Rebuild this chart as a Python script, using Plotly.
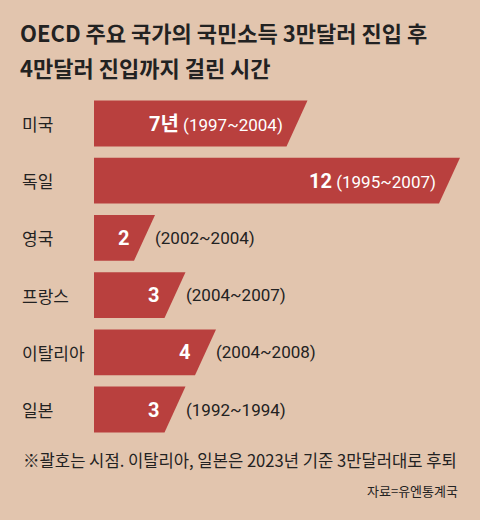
import plotly.graph_objects as go

# 데이터
countries = ['미국', '독일', '영국', '프랑스', '이탈리아', '일본']
years = [7, 12, 2, 3, 4, 3]
periods = ['(1997~2004)', '(1995~2007)', '(2002~2004)', '(2004~2007)', '(2004~2008)', '(1992~1994)']
title_lines = ['OECD 주요 국가의 국민소득 3만달러 진입 후', '4만달러 진입까지 걸린 시간']

BG = '#e2c5ae'
RED = '#b9403e'
DARK = '#222222'
KR = 'Noto Sans CJK KR'
NUM = 'Roboto, Noto Sans CJK KR'

PX = 30.5           # 1년당 픽셀
slant = 21 / PX     # 오른쪽 끝 기울기
half = 0.4          # 막대 절반 높이

fig = go.Figure()

for i, (c, v, p) in enumerate(zip(countries, years, periods)):
    # 오른쪽이 비스듬히 잘린 막대
    fig.add_trace(go.Scatter(
        x=[0, v, v - slant, 0, 0],
        y=[i - half, i - half, i + half, i + half, i - half],
        fill='toself', fillcolor=RED, mode='lines', line=dict(width=0),
        hoverinfo='skip', showlegend=False))

    num = f'{v}년' if i == 0 else f'{v}'
    edge = v - slant / 2
    if v >= 7:
        fig.add_annotation(x=edge, y=i, xref='x', yref='y', xanchor='right',
                           xshift=-12, showarrow=False,
                           text=f'<b><span style="font-size:20px">{num}</span></b> {p}',
                           font=dict(family=NUM, size=17, color='white'))
    else:
        fig.add_annotation(x=edge, y=i, xref='x', yref='y', xanchor='right',
                           xshift=-14, showarrow=False, text=f'<b>{num}</b>',
                           font=dict(family=NUM, size=20, color='white'))
        fig.add_annotation(x=v, y=i, xref='x', yref='y', xanchor='left',
                           xshift=-2, showarrow=False, text=p,
                           font=dict(family=NUM, size=17, color=DARK))

    fig.add_annotation(x=20 / 480, y=i, xref='paper', yref='y', xanchor='left',
                       showarrow=False, text=c,
                       font=dict(family=KR, size=17, color=DARK))

# 제목, 주석, 출처
for line, ty in zip(title_lines, [32, 67]):
    fig.add_annotation(x=18 / 480, y=1 - ty / 520, xref='paper', yref='paper',
                       xanchor='left', yanchor='middle', showarrow=False,
                       text=f'<b>{line}</b>',
                       font=dict(family=KR, size=22, color=DARK))
fig.add_annotation(x=21 / 480, y=1 - 460 / 520, xref='paper', yref='paper',
                   xanchor='left', yanchor='middle', showarrow=False,
                   text='※괄호는 시점. 이탈리아, 일본은 2023년 기준 3만달러대로 후퇴',
                   font=dict(family=KR, size=16.6, color=DARK))
fig.add_annotation(x=460 / 480, y=1 - 490 / 520, xref='paper', yref='paper',
                   xanchor='right', yanchor='middle', showarrow=False,
                   text='자료=유엔통계국',
                   font=dict(family=KR, size=13, color=DARK))

fig.update_layout(
    width=480, height=520,
    margin=dict(l=0, r=0, t=0, b=0),
    paper_bgcolor=BG, plot_bgcolor=BG,
    xaxis=dict(range=[-94 / PX, (480 - 94) / PX], visible=False, fixedrange=True),
    yaxis=dict(range=[(520 - 123.5) / 57.2, -123.5 / 57.2], visible=False, fixedrange=True),
)

fig.write_html('out.html', config={'displayModeBar': False},
               post_script="document.body.style.margin='0';"
                           "document.body.style.background='#e2c5ae';")
